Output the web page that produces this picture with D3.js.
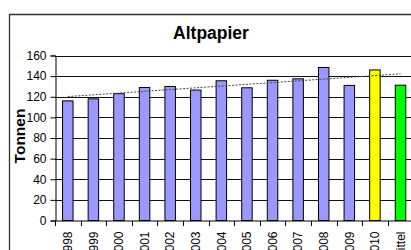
<!DOCTYPE html>
<html>
<head>
<meta charset="utf-8">
<script src="https://cdn.jsdelivr.net/npm/d3@7"></script>
<style>
  body { margin: 0; background: #fff; }
  svg { display: block; font-family: "Liberation Sans", Arial, sans-serif; }
</style>
</head>
<body>
<svg id="chart" width="411" height="250"></svg>
<script>
var categories = ["1998","1999","2000","2001","2002","2003","2004","2005","2006","2007","2008","2009","2010","Mittel"];
var values = [116, 118, 123, 129, 130, 126.5, 135.5, 128.7, 136, 137.4, 148.4, 131, 146, 131.2];
var colors = ["#9999ff","#9999ff","#9999ff","#9999ff","#9999ff","#9999ff","#9999ff","#9999ff","#9999ff","#9999ff","#9999ff","#9999ff","#ffff00","#00ff00"];
var yTicks = [0, 20, 40, 60, 80, 100, 120, 140, 160];

var svg = d3.select("#chart");
var pLeft = 55, pRight = 413.3, pTop = 55.5, pBottom = 220.5;

// chart border (only top and left are visible)
svg.append("path")
  .attr("d", "M9.5,250 V14.5 H411")
  .attr("fill", "none")
  .attr("stroke", "#333")
  .attr("stroke-width", 1.3);

svg.append("text")
  .attr("x", 211).attr("y", 39)
  .attr("text-anchor", "middle")
  .style("font-size", "17.5px").style("font-weight", "bold")
  .text("Altpapier");

var x = d3.scaleBand().domain(categories).range([pLeft, pRight]).padding(0);
var y = d3.scaleLinear().domain([0, 160]).range([pBottom, pTop]);

// grid
svg.append("g").selectAll("line")
  .data(yTicks.filter(function(d){ return d > 0; }))
  .enter().append("line")
  .attr("x1", pLeft).attr("x2", pRight)
  .attr("y1", function(d){ return Math.round(y(d)) + 0.5; })
  .attr("y2", function(d){ return Math.round(y(d)) + 0.5; })
  .attr("stroke", "#111").attr("stroke-width", 1);

// bars
var bw = x.bandwidth() * 0.41;
svg.append("g").selectAll("rect")
  .data(values)
  .enter().append("rect")
  .attr("x", function(d, i){ return x(categories[i]) + x.bandwidth()/2 - bw/2; })
  .attr("y", function(d){ return y(d); })
  .attr("width", bw)
  .attr("height", function(d){ return pBottom - y(d); })
  .attr("fill", function(d, i){ return colors[i]; })
  .attr("stroke", "#000").attr("stroke-width", 1);

// linear trend over all points
var n = values.length, mx = (n + 1) / 2, my = d3.mean(values);
var sxy = d3.sum(values, function(d, i){ return (i + 1 - mx) * (d - my); });
var sxx = d3.sum(values, function(d, i){ return (i + 1 - mx) * (i + 1 - mx); });
var slope = sxy / sxx, icpt = my - slope * mx;
svg.append("line")
  .attr("x1", x(categories[0]) + x.bandwidth()/2)
  .attr("x2", x(categories[n-1]) + x.bandwidth()/2)
  .attr("y1", y(icpt + slope * 1))
  .attr("y2", y(icpt + slope * n))
  .attr("stroke", "#444").attr("stroke-width", 1)
  .attr("stroke-dasharray", "2,1.5");

// y axis
var yAxis = svg.append("g")
  .attr("transform", "translate(" + (pLeft + 0.5) + ",0)")
  .call(d3.axisLeft(y).tickValues(yTicks).tickSize(5).tickPadding(4));
yAxis.selectAll("text").style("font-size", "12px").attr("fill", "#000");
yAxis.selectAll("line, path").attr("stroke", "#000");

// x axis
var xAxis = svg.append("g")
  .attr("transform", "translate(0," + (pBottom + 0.5) + ")");
xAxis.append("line").attr("x1", pLeft).attr("x2", pRight).attr("stroke", "#000");
xAxis.selectAll("line.tk")
  .data(d3.range(categories.length + 1))
  .enter().append("line").attr("class", "tk")
  .attr("x1", function(i){ return Math.round(pLeft + i * x.bandwidth()) + 0.5; })
  .attr("x2", function(i){ return Math.round(pLeft + i * x.bandwidth()) + 0.5; })
  .attr("y1", 0).attr("y2", 5).attr("stroke", "#000");
xAxis.selectAll("text")
  .data(categories)
  .enter().append("text")
  .attr("transform", function(d){ return "translate(" + (x(d) + x.bandwidth()/2) + ",10.5) rotate(-90)"; })
  .attr("text-anchor", "end")
  .attr("dy", "0.35em")
  .style("font-size", "12px")
  .text(function(d){ return d; });

// y label
svg.append("text")
  .attr("transform", "translate(25,136) rotate(-90)")
  .attr("text-anchor", "middle")
  .style("font-size", "15.5px").style("font-weight", "bold")
  .text("Tonnen");
</script>
</body>
</html>
